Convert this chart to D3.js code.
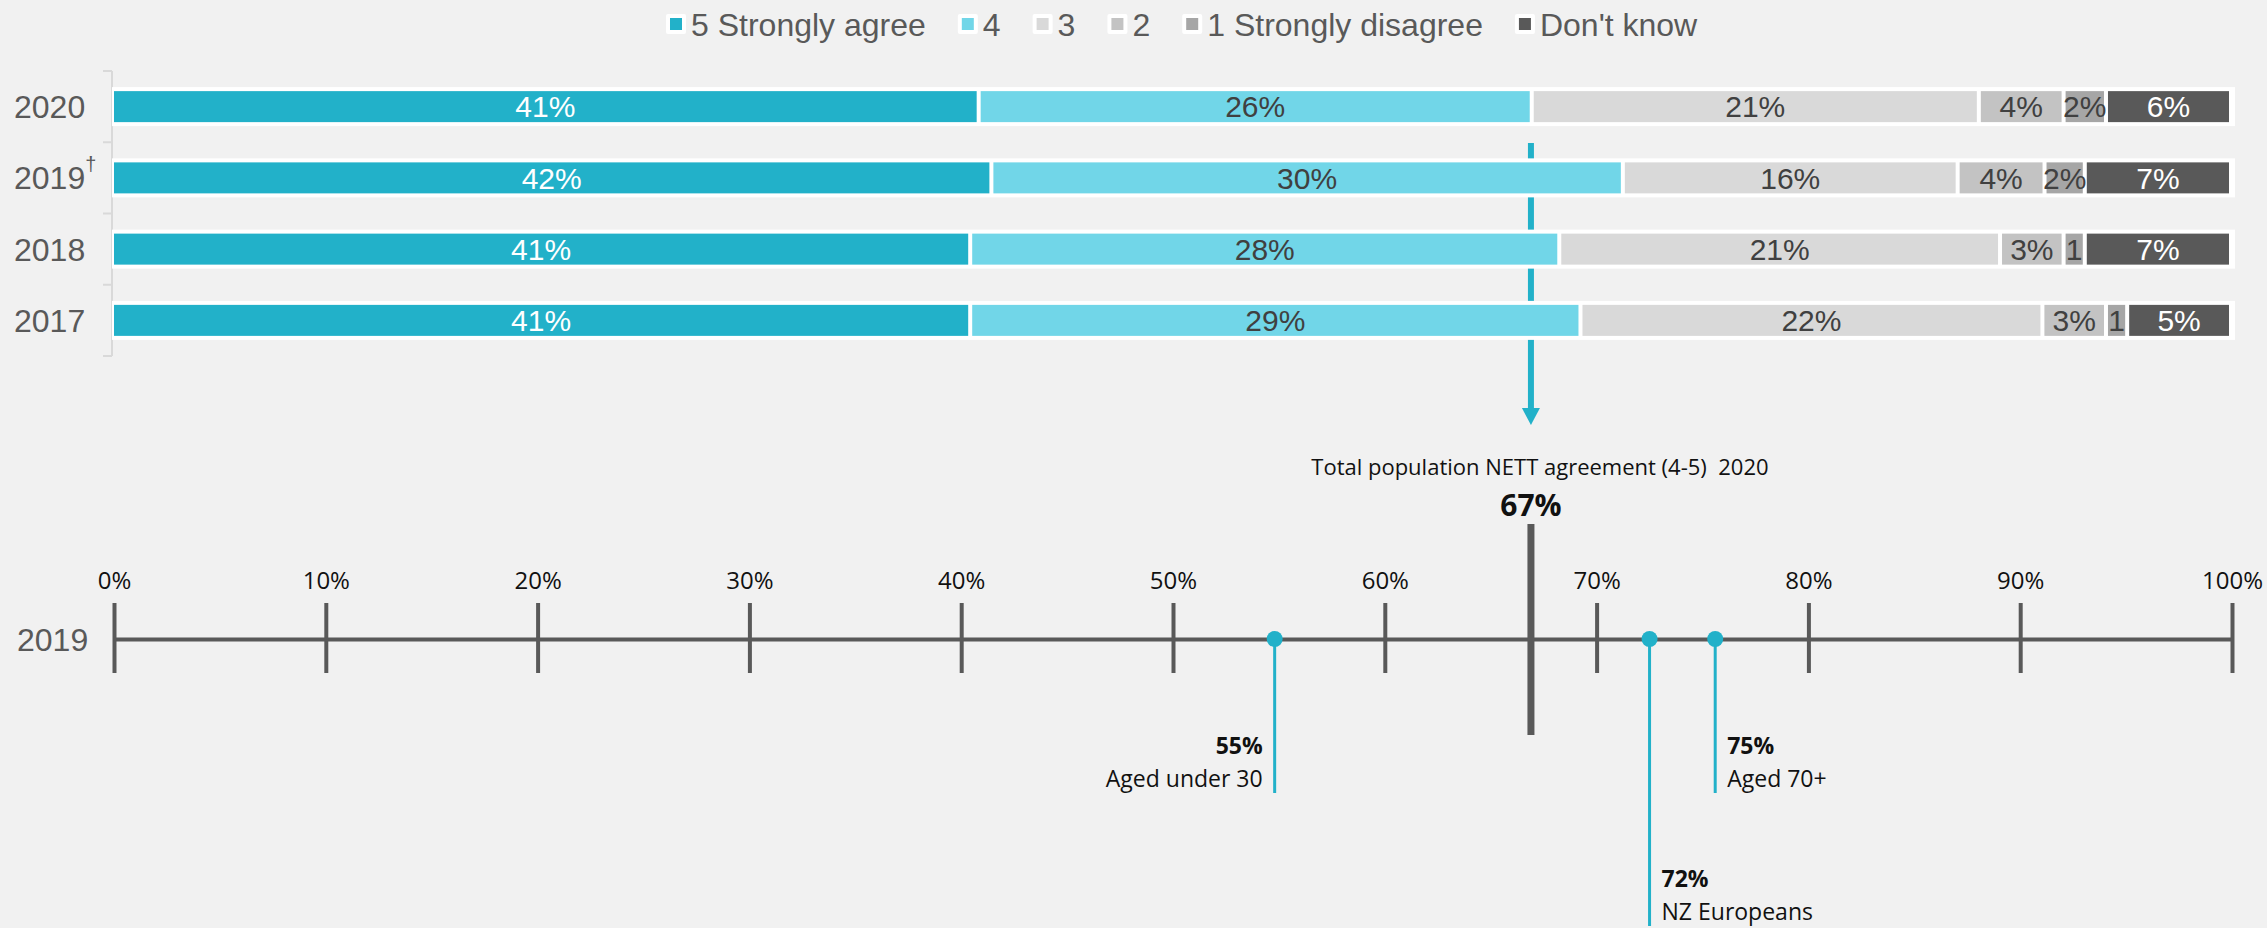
<!DOCTYPE html>
<html>
<head>
<meta charset="utf-8">
<script src="https://cdn.jsdelivr.net/npm/d3@7"></script>
<style>
  body { margin: 0; background: #f1f1f1; }
  svg { display: block; }
</style>
</head>
<body>
<div id="chart"></div>
<script>
// survey rows, top to bottom
const years = ["2020", "2019", "2018", "2017"];
const categories = ["5 Strongly agree", "4", "3", "2", "1 Strongly disagree", "Don't know"];

// share of respondents (%) per category, one value per year
const agree5 = [40.9, 41.5, 40.5, 40.5];
const agree4 = [26.1, 29.8, 27.8, 28.8];
const neutral3 = [21.1, 15.8, 20.8, 21.8];
const disagree2 = [4.0, 4.1, 3.0, 3.0];
const disagree1 = [2.0, 1.9, 1.0, 1.0];
const dontKnow = [5.9, 6.9, 6.9, 4.9];

// NETT agreement scale (bottom)
const axisTicks = [0, 10, 20, 30, 40, 50, 60, 70, 80, 90, 100];
const totalNett = 66.9;
const totalLabel = "67%";
const groups = ["Aged under 30", "NZ Europeans", "Aged 70+"];
const groupValues = [54.8, 72.5, 75.6];
const groupLabels = ["55%", "72%", "75%"];

const colors = ["#22b1c9", "#71d6e8", "#d9d9d9", "#c3c3c3", "#a6a6a6", "#595959"];
const textColors = ["#ffffff", "#404040", "#404040", "#404040", "#404040", "#ffffff"];

const width = 2267;
const height = 928;
const arial = "'Liberation Sans', Arial, sans-serif";
const calibri = "'Open Sans', sans-serif";

const series = [agree5, agree4, neutral3, disagree2, disagree1, dontKnow];

const svg = d3.select("#chart")
    .append("svg")
    .attr("width", width)
    .attr("height", height);

svg.append("rect")
    .attr("width", width)
    .attr("height", height)
    .attr("fill", "#f1f1f1");

// ---------- stacked bars ----------
const barX = d3.scaleLinear().domain([0, 100]).range([112, 2231]);
const rowY = d3.scaleBand().domain(years).range([71, 356]);
const barH = 31;

const x = d3.scaleLinear().domain([0, 100]).range([114, 2232]);

// arrow from bars to the NETT scale (sits behind the bars)
const arrowX = x(totalNett);
svg.append("line")
    .attr("x1", arrowX).attr("x2", arrowX)
    .attr("y1", 143).attr("y2", 410)
    .attr("stroke", "#22b1c9")
    .attr("stroke-width", 6);
svg.append("path")
    .attr("d", `M${arrowX - 9},408 L${arrowX + 9},408 L${arrowX},425 Z`)
    .attr("fill", "#22b1c9");

// left bracket
const bracket = svg.append("g").attr("stroke", "#d9d9d9").attr("stroke-width", 2);
bracket.append("line").attr("x1", 112).attr("x2", 112).attr("y1", 71).attr("y2", 356);
bracket.selectAll("line.tk")
    .data(years.map(y => rowY(y)).concat([356]))
    .enter().append("line")
    .attr("class", "tk")
    .attr("x1", 103).attr("x2", 112)
    .attr("y1", d => d).attr("y2", d => d);

const rows = svg.selectAll("g.row")
    .data(years)
    .enter().append("g")
    .attr("class", "row")
    .attr("transform", d => `translate(0, ${rowY(d) + rowY.bandwidth() / 2 - barH / 2})`);

rows.append("rect")
    .attr("x", barX(0))
    .attr("y", -4)
    .attr("width", barX(100) - barX(0) + 4)
    .attr("height", barH + 8)
    .attr("fill", "#ffffff");

rows.each(function (year, r) {
    const g = d3.select(this);
    let start = 0;
    series.forEach((s, i) => {
        const v = s[r];
        const x0 = barX(start), x1 = barX(start + v);
        g.append("rect")
            .attr("x", x0 + 2)
            .attr("y", 0)
            .attr("width", x1 - x0 - 4)
            .attr("height", barH)
            .attr("fill", colors[i]);
        g.append("text")
            .attr("x", (x0 + x1) / 2)
            .attr("y", barH / 2)
            .attr("dy", "0.36em")
            .attr("text-anchor", "middle")
            .attr("font-family", arial)
            .attr("font-size", 30)
            .attr("fill", textColors[i])
            .text(v < 1.5 ? Math.round(v) : Math.round(v) + "%");
        start += v;
    });
});

// year labels
const yearText = svg.selectAll("text.year")
    .data(years)
    .enter().append("text")
    .attr("class", "year")
    .attr("x", 14)
    .attr("y", d => rowY(d) + rowY.bandwidth() / 2)
    .attr("dy", "0.36em")
    .attr("font-family", arial)
    .attr("font-size", 32)
    .attr("fill", "#595959")
    .text(d => d);
yearText.filter(d => d === "2019")
    .append("tspan")
    .attr("font-size", 20)
    .attr("dy", "-0.9em")
    .text("\u2020");

// legend
const legend = svg.append("g").attr("transform", "translate(666, 24)");
let lx = 0;
categories.forEach((c, i) => {
    const item = legend.append("g").attr("transform", `translate(${lx}, 0)`);
    item.append("rect")
        .attr("x", 0).attr("y", -10)
        .attr("width", 20).attr("height", 20)
        .attr("rx", 2)
        .attr("fill", "#ffffff");
    item.append("rect")
        .attr("x", 4).attr("y", -6)
        .attr("width", 12).attr("height", 12)
        .attr("fill", colors[i]);
    const t = item.append("text")
        .attr("x", 25)
        .attr("dy", "0.36em")
        .attr("font-family", arial)
        .attr("font-size", 32)
        .attr("fill", "#595959")
        .text(c);
    lx += 25 + t.node().getComputedTextLength() + 32;
});

// ---------- NETT agreement scale ----------
const axisY = 639;

svg.append("text")
    .attr("x", 17)
    .attr("y", axisY)
    .attr("dy", "0.36em")
    .attr("font-family", arial)
    .attr("font-size", 32)
    .attr("fill", "#595959")
    .text("2019");

const axis = svg.append("g")
    .attr("transform", `translate(0, ${axisY})`)
    .call(d3.axisTop(x)
        .tickValues(axisTicks)
        .tickFormat(d => d + "%")
        .tickSize(36)
        .tickSizeOuter(0)
        .tickPadding(14));

axis.select(".domain")
    .attr("stroke", "#595959")
    .attr("stroke-width", 4);
axis.selectAll(".tick line")
    .attr("y1", 34)
    .attr("stroke", "#595959")
    .attr("stroke-width", 4);
axis.selectAll(".tick text")
    .attr("font-family", calibri)
    .attr("font-size", 24)
    .attr("fill", "#111111");

// total population marker
svg.append("line")
    .attr("x1", x(totalNett)).attr("x2", x(totalNett))
    .attr("y1", 524).attr("y2", 735)
    .attr("stroke", "#595959")
    .attr("stroke-width", 7);

svg.append("text")
    .attr("x", x(totalNett) + 9)
    .attr("y", 475)
    .attr("text-anchor", "middle")
    .attr("font-family", calibri)
    .attr("font-size", 22)
    .attr("fill", "#111111")
    .style("white-space", "pre")
    .text("Total population NETT agreement (4-5)  2020");

svg.append("text")
    .attr("x", x(totalNett))
    .attr("y", 516)
    .attr("text-anchor", "middle")
    .attr("font-family", calibri)
    .attr("font-weight", "bold")
    .attr("font-size", 30)
    .attr("fill", "#111111")
    .text(totalLabel);

// sub-group pins
const stemEnd = [793, 926, 793];
const labelSide = ["left", "right", "right"];

const pins = svg.selectAll("g.pin")
    .data(groups)
    .enter().append("g")
    .attr("class", "pin");

pins.append("line")
    .attr("x1", (d, i) => x(groupValues[i]))
    .attr("x2", (d, i) => x(groupValues[i]))
    .attr("y1", axisY)
    .attr("y2", (d, i) => stemEnd[i])
    .attr("stroke", "#22b1c9")
    .attr("stroke-width", 3);

pins.append("circle")
    .attr("cx", (d, i) => x(groupValues[i]))
    .attr("cy", axisY)
    .attr("r", 8)
    .attr("fill", "#22b1c9");

pins.append("text")
    .attr("x", (d, i) => x(groupValues[i]) + (labelSide[i] === "left" ? -12 : 12))
    .attr("y", (d, i) => stemEnd[i] - 39)
    .attr("text-anchor", (d, i) => labelSide[i] === "left" ? "end" : "start")
    .attr("font-family", calibri)
    .attr("font-weight", "bold")
    .attr("font-size", 23)
    .attr("fill", "#111111")
    .text((d, i) => groupLabels[i]);

pins.append("text")
    .attr("x", (d, i) => x(groupValues[i]) + (labelSide[i] === "left" ? -12 : 12))
    .attr("y", (d, i) => stemEnd[i] - 6)
    .attr("text-anchor", (d, i) => labelSide[i] === "left" ? "end" : "start")
    .attr("font-family", calibri)
    .attr("font-size", 23)
    .attr("fill", "#111111")
    .text(d => d);
</script>
</body>
</html>
